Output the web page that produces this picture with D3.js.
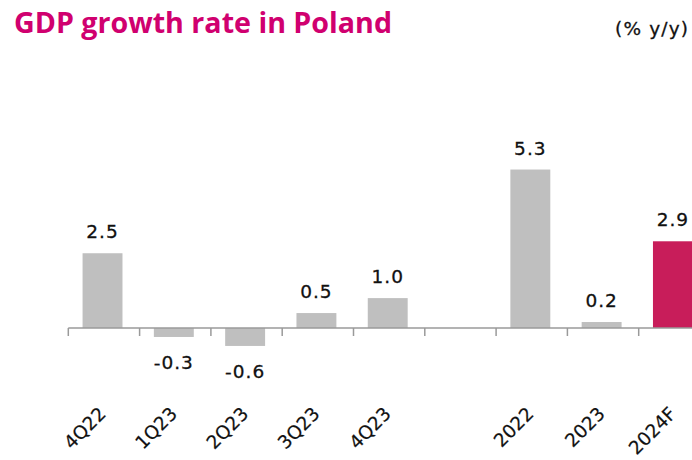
<!DOCTYPE html>
<html><head><meta charset="utf-8">
<script src="https://cdn.jsdelivr.net/npm/d3@7"></script>
<style>
html,body{margin:0;padding:0;background:#fff;overflow:hidden;}
</style></head>
<body>
<svg id="chart" width="692" height="460"></svg>
<script>
const titleText = "GDP growth rate in Poland";
const unitText = "(% y/y)";
const categories = ["4Q22","1Q23","2Q23","3Q23","4Q23","gap","2022","2023","2024F"];
const tickLabels = ["4Q22","1Q23","2Q23","3Q23","4Q23","","2022","2023","2024F"];
const values = [2.5,-0.3,-0.6,0.5,1.0,null,5.3,0.2,2.9];
const highlight = ["2024F"];

const svg = d3.select("#chart");
const grey = "#bfbfbf", accent = "#c81d5a", titleColor = "#d0006f";

const x = d3.scaleBand().domain(categories).range([68.3, 68.3 + 9*71.3]).padding(0);
const y = d3.scaleLinear().domain([-1, 6]).range([328 + 29.9, 328 - 6*29.9]);
const data = categories.map((c,i)=>({c, v: values[i], label: tickLabels[i]}));

// title
svg.append("text").attr("x",14).attr("y",33)
  .attr("font-family","'Open Sans', sans-serif").attr("font-weight","bold")
  .attr("font-size",29).attr("fill",titleColor)
  .attr("textLength",378).attr("lengthAdjust","spacingAndGlyphs")
  .text(titleText);
svg.append("text").attr("x",688).attr("y",35).attr("text-anchor","end")
  .attr("font-family","'DejaVu Sans', sans-serif").attr("font-size",18.5).attr("fill","#111")
  .attr("stroke","#111").attr("stroke-width",0.3)
  .attr("textLength",73).attr("lengthAdjust","spacing")
  .text(unitText);

// bars
const bars = data.filter(d=>d.v!==null);
const bw = x.bandwidth();
svg.append("g").selectAll("rect").data(bars).join("rect")
  .attr("x", d=>x(d.c) + bw*0.2)
  .attr("width", bw*0.56)
  .attr("y", d=>y(Math.max(0,d.v)))
  .attr("height", d=>Math.abs(y(d.v)-y(0)))
  .attr("fill", d=>highlight.includes(d.c)?accent:grey);

// value labels
svg.append("g").selectAll("text").data(bars).join("text")
  .attr("x", d=>x(d.c) + bw*0.48)
  .attr("y", d=> d.v>=0 ? y(d.v)-15 : y(d.v)+32)
  .attr("text-anchor","middle")
  .attr("font-family","'DejaVu Sans', sans-serif").attr("font-size",18.5)
  .attr("letter-spacing",1).attr("fill","#111")
  .attr("stroke","#111").attr("stroke-width",0.3)
  .text(d=>d3.format(".1f")(d.v).replace("−","-"));

// axis
const axis = svg.append("g").attr("transform",`translate(0,${y(0)})`);
axis.append("line").attr("x1",x.range()[0]).attr("x2",x.range()[1])
  .attr("stroke","#9a9a9a").attr("stroke-width",1.5);
axis.selectAll("line.tick").data(categories.concat(["end"])).join("line")
  .attr("class","tick")
  .attr("x1",(d,i)=> i<categories.length ? x(d) : x.range()[1])
  .attr("x2",(d,i)=> i<categories.length ? x(d) : x.range()[1])
  .attr("y1",0).attr("y2",8).attr("stroke","#9a9a9a").attr("stroke-width",1.5);

svg.append("g").selectAll("text").data(data).join("text")
  .attr("transform", d=>`translate(${x(d.c)+bw/2+3},${y(0)+87}) rotate(-45)`)
  .attr("text-anchor","end")
  .attr("font-family","'DejaVu Sans', sans-serif").attr("font-size",18.5).attr("fill","#111")
  .attr("stroke","#111").attr("stroke-width",0.2)
  .text(d=>d.label);
</script>
</body></html>
